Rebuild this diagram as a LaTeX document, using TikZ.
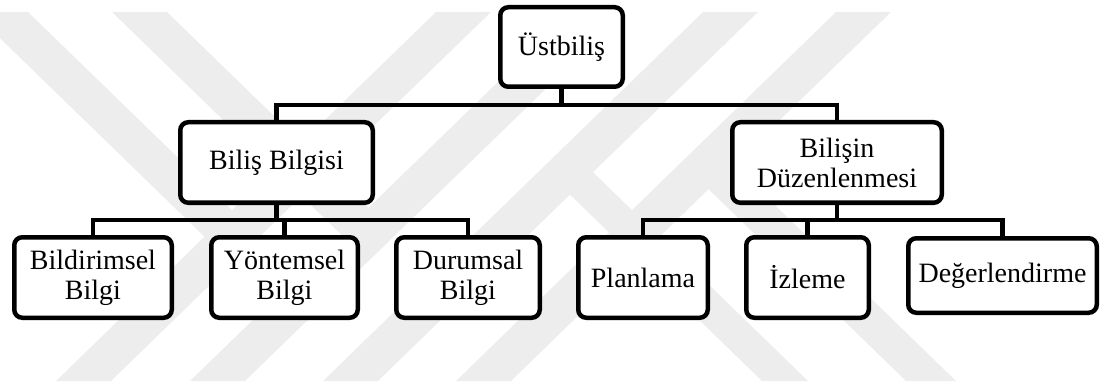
\documentclass[tikz,border=0pt]{standalone}
\usepackage{fontspec}
\setmainfont{Liberation Serif}
\definecolor{wmgray}{RGB}{237,237,237}
\begin{document}
\begin{tikzpicture}[x=1pt,y=-1pt,
  box/.style={draw=black, line width=4.5pt, rounded corners=8pt, fill=white,
    align=center, inner sep=0pt, font=\fontsize{28}{30}\selectfont},
  link/.style={draw=black, line width=4.5pt},
  wm/.style={fill=wmgray}]
\useasboundingbox (0,0) rectangle (1101,385);
% watermark
\begin{scope}
\clip (0,0) rectangle (1101,385);
\foreach \a in {436,570,703,836}{
  \fill[wm] (\a,12) -- ({\a+55},12) -- ({\a+55-380},381) -- ({\a-380},381) -- cycle;
}
\fill[wm] (-27,12) -- (28,12) -- (232,210.1) -- (232,263.5) -- cycle;
\fill[wm] (112,12) -- (167,12) -- (368.5,207.7) -- (368.5,261.1) -- cycle;
\fill[wm] (762,381) -- (808,381) -- (565.5,145.5) -- (570,194.6) -- cycle;
\fill[wm] (906,381) -- (956,381) -- (706,138.2) -- (708.5,189.2) -- cycle;
\end{scope}
% nodes
\node[box, minimum width=122.5pt, minimum height=79.5pt] (U) at (561.5,47) {Üstbiliş};
\node[box, minimum width=192.5pt, minimum height=80.5pt] (BB) at (276.5,162.5) {Biliş Bilgisi};
\node[box, minimum width=209.5pt, minimum height=80.5pt] (BD) at (837,162.5) {Bilişin\\Düzenlenmesi};
\node[box, minimum width=157.5pt, minimum height=80.5pt] (L1) at (93,277.5) {Bildirimsel\\Bilgi};
\node[box, minimum width=146.5pt, minimum height=80.5pt] (L2) at (284.5,277.5) {Yöntemsel\\Bilgi};
\node[box, minimum width=143.5pt, minimum height=80.5pt] (L3) at (468,277.5) {Durumsal\\Bilgi};
\node[box, minimum width=129.5pt, minimum height=80.5pt] (R1) at (643,277.5) {Planlama};
\node[box, minimum width=122.5pt, minimum height=80.5pt] (R2) at (807.5,277.5) {İzleme};
\node[box, minimum width=188.5pt, minimum height=74.5pt] (R3) at (1002.5,275.5) {Değerlendirme};
% bus points
\coordinate (b0) at (561.5,105);
\coordinate (b1) at (276.5,220);
\coordinate (b2) at (837,220);
% connectors
\draw[link] (U.south) -- (b0);
\draw[link] (BB.north) |- (b0);
\draw[link] (BD.north) |- (b0);
\draw[link] (BB.south) -- (b1);
\draw[link] (L1.north) |- (b1);
\draw[link] (L2.north) |- (b1);
\draw[link] (L3.north) |- (b1);
\draw[link] (BD.south) -- (b2);
\draw[link] (R1.north) |- (b2);
\draw[link] (R2.north) |- (b2);
\draw[link] (R3.north) |- (b2);
\end{tikzpicture}
\end{document}
